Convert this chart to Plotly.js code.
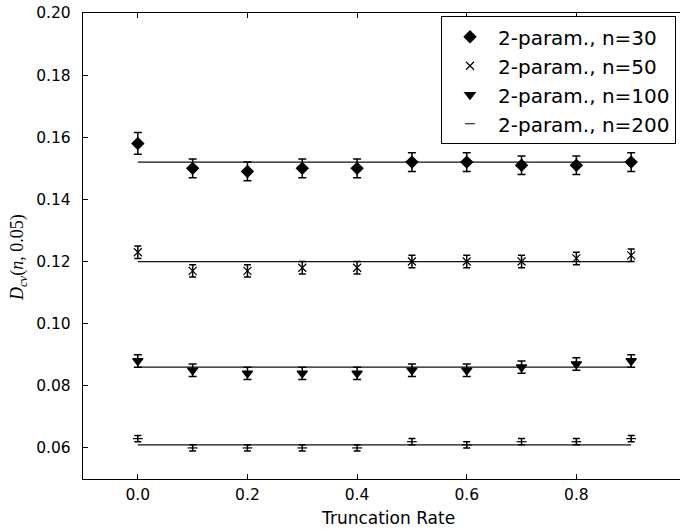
<!DOCTYPE html>
<html>
<head>
<meta charset="utf-8">
<script src="https://cdn.plot.ly/plotly-3.0.1.min.js"></script>
<style>
html, body { margin: 0; padding: 0; overflow: hidden; background: #fff; }
#chart { width: 690px; height: 530px; }
</style>
</head>
<body>
<div id="chart"></div>
<script>
// Truncation rates (x)
const truncationRate = [0.0, 0.1, 0.2, 0.3, 0.4, 0.5, 0.6, 0.7, 0.8, 0.9];

// Series names
const seriesNames = ["2-param., n=30", "2-param., n=50", "2-param., n=100", "2-param., n=200"];

// D_cv(n, 0.05) estimates
const n30 = [0.158, 0.150, 0.149, 0.150, 0.150, 0.152, 0.152, 0.151, 0.151, 0.152];
const n50 = [0.123, 0.117, 0.117, 0.118, 0.118, 0.120, 0.120, 0.120, 0.121, 0.122];
const n100 = [0.088, 0.085, 0.084, 0.084, 0.084, 0.085, 0.085, 0.086, 0.087, 0.088];
const n200 = [0.063, 0.060, 0.060, 0.060, 0.060, 0.062, 0.061, 0.062, 0.062, 0.063];

// Error bar half-widths
const err30 = [0.0035, 0.003, 0.003, 0.003, 0.003, 0.003, 0.003, 0.003, 0.003, 0.003];
const err50 = [0.002, 0.002, 0.002, 0.002, 0.002, 0.002, 0.002, 0.002, 0.002, 0.002];
const err100 = [0.002, 0.002, 0.002, 0.002, 0.002, 0.002, 0.002, 0.002, 0.002, 0.002];
const err200 = [0.001, 0.001, 0.001, 0.001, 0.001, 0.001, 0.001, 0.001, 0.001, 0.001];

// Reference (asymptotic) levels drawn as horizontal lines
const refLevels = [0.152, 0.120, 0.086, 0.061];

// Axis ticks
const xTicks = [0.0, 0.2, 0.4, 0.6, 0.8];
const yTicks = [0.06, 0.08, 0.10, 0.12, 0.14, 0.16, 0.18, 0.20];

const values = [n30, n50, n100, n200];
const errors = [err30, err50, err100, err200];
const symbols = ["diamond", "x-thin-open", "triangle-down", "line-ew-open"];
const sizes = [9, 8, 9, 7];
const capW = [4, 3.5, 4, 3.5];

const traces = [];
refLevels.forEach(function (lvl) {
  traces.push({
    x: [truncationRate[0], truncationRate[truncationRate.length - 1]],
    y: [lvl, lvl],
    mode: "lines",
    line: { color: "#111", width: 1.2 },
    showlegend: false,
    hoverinfo: "skip"
  });
});
values.forEach(function (vals, i) {
  traces.push({
    x: truncationRate,
    y: vals,
    name: seriesNames[i],
    legendgroup: "g" + i,
    mode: "markers",
    marker: {
      symbol: symbols[i],
      size: sizes[i],
      color: "#000",
      line: { color: "#000", width: 1.2 }
    },
    error_y: {
      type: "data",
      array: errors[i],
      visible: true,
      color: "#000",
      thickness: 1.5,
      width: capW[i]
    }
  });
});

const axisFont = { family: "DejaVu Sans", size: 15.5, color: "#000" };

const layout = {
  width: 690,
  height: 530,
  margin: { l: 83, r: 4, t: 13, b: 51 },
  paper_bgcolor: "#fff",
  plot_bgcolor: "#fff",
  showlegend: true,
  legend: {
    x: 0.9834, xanchor: "right",
    y: 0.993, yanchor: "top",
    bgcolor: "#fff",
    bordercolor: "#000",
    borderwidth: 1,
    font: { family: "DejaVu Sans", size: 20, color: "#000" },
    itemwidth: 46,
    tracegroupgap: 0
  },
  xaxis: {
    range: [-0.1, 1.0],
    tickvals: xTicks,
    tickformat: ".1f",
    ticks: "inside",
    ticklen: 5,
    tickwidth: 1,
    tickcolor: "#000",
    showline: true,
    linecolor: "#000",
    linewidth: 1.2,
    mirror: "ticks",
    showgrid: false,
    zeroline: false,
    tickfont: axisFont,
    ticklabelstandoff: 1
  },
  yaxis: {
    range: [0.05, 0.20],
    tickvals: yTicks,
    tickformat: ".2f",
    ticks: "inside",
    ticklen: 5,
    tickwidth: 1,
    tickcolor: "#000",
    showline: true,
    linecolor: "#000",
    linewidth: 1.2,
    mirror: "ticks",
    showgrid: false,
    zeroline: false,
    tickfont: axisFont,
    ticklabelstandoff: 8
  },
  annotations: [
    {
      text: "Truncation Rate",
      xref: "paper", yref: "paper",
      x: (388 - 83) / 603, y: -(518 - 479) / 466,
      xanchor: "center", yanchor: "middle",
      showarrow: false,
      font: { family: "DejaVu Sans", size: 17, color: "#000" }
    },
    {
      text: "<i>D</i><sub><i>cv</i></sub>(<i>n</i>, 0.05)",
      xref: "paper", yref: "paper",
      x: -(83 - 18) / 603, y: 1 - (258 - 13) / 466,
      xanchor: "center", yanchor: "middle",
      textangle: -90,
      showarrow: false,
      font: { family: "Liberation Serif", size: 18, color: "#000" }
    }
  ]
};

Plotly.newPlot("chart", traces, layout, { displayModeBar: false, staticPlot: true });
</script>
</body>
</html>
